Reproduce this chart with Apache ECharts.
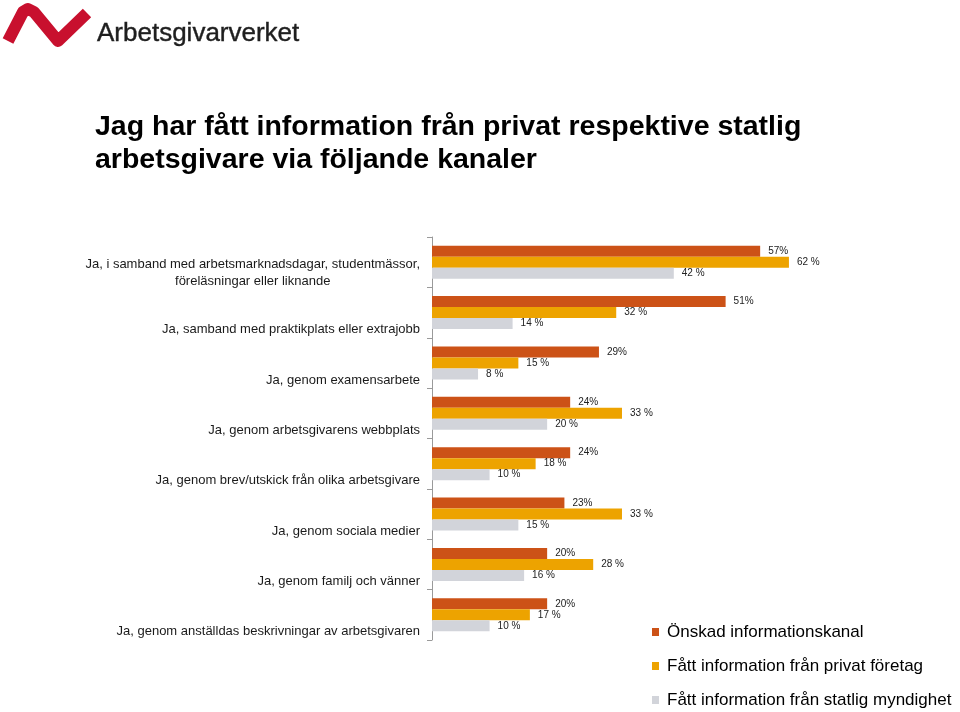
<!DOCTYPE html>
<html>
<head>
<meta charset="utf-8">
<script src="https://cdn.jsdelivr.net/npm/echarts@6/dist/echarts.min.js"></script>
<style>
html,body{margin:0;padding:0;background:#fff;}
#chart{width:960px;height:712px;}
</style>
</head>
<body>
<div id="chart"></div>
<script>
var categories = [
  'Ja, i samband med arbetsmarknadsdagar, studentmässor,\nföreläsningar eller liknande',
  'Ja, samband med praktikplats eller extrajobb',
  'Ja, genom examensarbete',
  'Ja, genom arbetsgivarens webbplats',
  'Ja, genom brev/utskick från olika arbetsgivare',
  'Ja, genom sociala medier',
  'Ja, genom familj och vänner',
  'Ja, genom anställdas beskrivningar av arbetsgivaren'
];
var seriesNames = ['Önskad informationskanal', 'Fått information från privat företag', 'Fått information från statlig myndighet'];
var onskad = [57, 51, 29, 24, 24, 23, 20, 20];
var privat = [62, 32, 15, 33, 18, 33, 28, 17];
var statlig = [42, 14, 8, 20, 10, 15, 16, 10];
var colors = ['#CC5217', '#EDA300', '#D2D4DA'];

var FONT = "'Liberation Sans', Arial, Helvetica, sans-serif";
var chart = echarts.init(document.getElementById('chart'));

function lbl(fmt) {
  return {
    show: true, position: 'right', distance: 8,
    fontSize: 10, color: '#222', fontFamily: FONT,
    formatter: fmt
  };
}

chart.setOption({
  animation: false,
  backgroundColor: '#fff',
  color: colors,
  title: {
    text: 'Jag har fått information från privat respektive statlig\narbetsgivare via följande kanaler',
    left: 95, top: 111, padding: 0,
    textStyle: { fontFamily: FONT, fontSize: 28.5, fontWeight: 'bold', color: '#000', lineHeight: 33 }
  },
  legend: {
    orient: 'vertical', left: 652, top: 622, padding: 0,
    itemWidth: 7, itemHeight: 8, itemGap: 14,
    icon: 'rect',
    textStyle: { fontFamily: FONT, fontSize: 17, color: '#000', lineHeight: 20, padding: [0, 0, 0, 3] },
    data: seriesNames
  },
  grid: { left: 432, top: 237, width: 403, height: 403, containLabel: false },
  xAxis: {
    type: 'value', min: 0, max: 70,
    show: false
  },
  yAxis: {
    type: 'category', inverse: true, data: categories,
    axisLine: { show: true, lineStyle: { color: '#9a9a9a', width: 1 } },
    axisTick: { show: true, length: 5, lineStyle: { color: '#9a9a9a' } },
    axisLabel: {
      interval: 0, hideOverlap: false,
      fontFamily: FONT, fontSize: 13, color: '#1a1a1a', margin: 12,
      padding: [34, 0, 0, 0], lineHeight: 17,
      formatter: function (v) {
        if (v.indexOf('\n') >= 0) {
          var parts = v.split('\n');
          return '{c|' + parts[0] + '}\n{c|' + parts[1] + '}\n{e|}';
        }
        return v;
      },
      rich: {
        c: { align: 'center', fontFamily: FONT, fontSize: 13, color: '#1a1a1a', lineHeight: 17 },
        e: { fontSize: 1, lineHeight: 12 }
      }
    }
  },
  series: [
    { name: seriesNames[0], type: 'bar', data: onskad, barWidth: 11, barGap: '0%', label: lbl('{c}%') },
    { name: seriesNames[1], type: 'bar', data: privat, barWidth: 11, barGap: '0%', label: lbl('{c} %') },
    { name: seriesNames[2], type: 'bar', data: statlig, barWidth: 11, barGap: '0%', label: lbl('{c} %') }
  ],
  graphic: [
    {
      type: 'polyline', z: 10,
      shape: { points: [[8, 41], [23, 12], [28, 9], [34, 12], [58, 41], [87, 13]] },
      style: { stroke: '#C8102E', lineWidth: 12, fill: null, lineJoin: 'round', lineCap: 'butt' }
    },
    {
      type: 'text', z: 10, x: 97, y: 34,
      style: { text: 'Arbetsgivarverket', font: '26px ' + FONT, fill: '#1e1e1e', stroke: '#1e1e1e', lineWidth: 0.4, verticalAlign: 'middle', align: 'left' }
    }
  ]
});
</script>
</body>
</html>
